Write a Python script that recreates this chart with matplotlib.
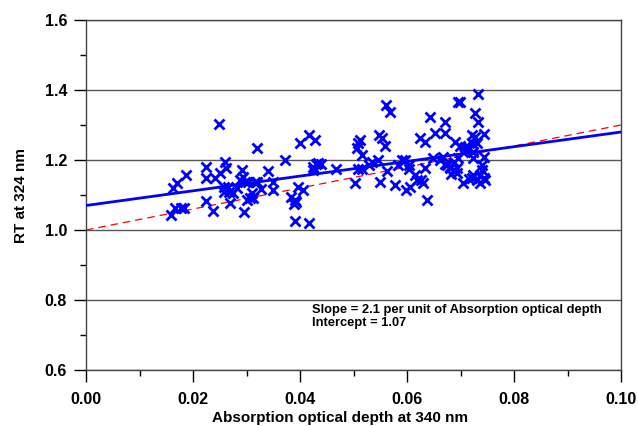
import numpy as np
import matplotlib
matplotlib.use("Agg")
import matplotlib.pyplot as plt
from matplotlib.ticker import MultipleLocator

plt.rcParams['font.family'] = ['Liberation Sans', 'DejaVu Sans']
plt.rcParams['font.weight'] = 'bold'

# absorption optical depth at 340 nm
aod = [0.0158, 0.0163, 0.0170, 0.0166, 0.0178, 0.0184, 0.0186, 0.0224, 0.0224, 0.0224,
       0.0237, 0.0242, 0.0250, 0.0249, 0.0260, 0.0261, 0.0258, 0.0266, 0.0258, 0.0268,
       0.0269, 0.0275, 0.0283, 0.0287, 0.0292, 0.0294, 0.0297, 0.0303, 0.0296, 0.0300,
       0.0307, 0.0310, 0.0313, 0.0316, 0.0319, 0.0320, 0.0327, 0.0340, 0.0349, 0.0350,
       0.0372, 0.0383, 0.0388, 0.0391, 0.0393, 0.0391, 0.0397, 0.0406, 0.0400, 0.0417,
       0.0428, 0.0417, 0.0425, 0.0430, 0.0425, 0.0434, 0.0440, 0.0468, 0.0502, 0.0506,
       0.0509, 0.0513, 0.0515, 0.0509, 0.0515, 0.0529, 0.0535, 0.0545, 0.0547, 0.0553,
       0.0559, 0.0550, 0.0562, 0.0561, 0.0568, 0.0578, 0.0584, 0.0590, 0.0596, 0.0603,
       0.0604, 0.0599, 0.0606, 0.0615, 0.0618, 0.0624, 0.0634, 0.0627, 0.0630, 0.0634,
       0.0637, 0.0643, 0.0652, 0.0649, 0.0662, 0.0671, 0.0671, 0.0674, 0.0680, 0.0687,
       0.0690, 0.0696, 0.0733, 0.0699, 0.0727, 0.0733, 0.0743, 0.0721, 0.0727, 0.0699,
       0.0708, 0.0715, 0.0721, 0.0730, 0.0705, 0.0724, 0.0696, 0.0724, 0.0743, 0.0668,
       0.0671, 0.0680, 0.0687, 0.0693, 0.0683, 0.0693, 0.0740, 0.0740, 0.0737, 0.0724,
       0.0721, 0.0743, 0.0715, 0.0730, 0.0737, 0.0704, 0.0746]

# RT at 324 nm
rt = [1.043, 1.119, 1.133, 1.062, 1.062, 1.062, 1.157, 1.181, 1.150, 1.083,
      1.054, 1.150, 1.162, 1.302, 1.195, 1.178, 1.124, 1.124, 1.110, 1.110,
      1.076, 1.105, 1.119, 1.143, 1.171, 1.152, 1.138, 1.138, 1.052, 1.086,
      1.091, 1.105, 1.091, 1.138, 1.138, 1.233, 1.116, 1.169, 1.114, 1.138,
      1.200, 1.095, 1.074, 1.086, 1.080, 1.027, 1.124, 1.114, 1.248, 1.271,
      1.257, 1.021, 1.171, 1.190, 1.181, 1.192, 1.190, 1.173, 1.133, 1.233,
      1.248, 1.257, 1.214, 1.173, 1.173, 1.186, 1.195, 1.200, 1.271, 1.262,
      1.240, 1.136, 1.169, 1.357, 1.336, 1.129, 1.186, 1.200, 1.200, 1.186,
      1.173, 1.114, 1.124, 1.157, 1.143, 1.262, 1.252, 1.143, 1.133, 1.176,
      1.086, 1.324, 1.276, 1.205, 1.200, 1.310, 1.276, 1.186, 1.176, 1.195,
      1.252, 1.367, 1.389, 1.365, 1.333, 1.310, 1.274, 1.271, 1.267, 1.240,
      1.238, 1.233, 1.248, 1.248, 1.224, 1.224, 1.205, 1.205, 1.210, 1.210,
      1.190, 1.181, 1.171, 1.176, 1.159, 1.162, 1.186, 1.171, 1.157, 1.157,
      1.148, 1.148, 1.145, 1.143, 1.135, 1.133, 1.143]

slope = 2.1
intercept = 1.07
ref_slope = 3.0
ref_intercept = 1.0

fig = plt.figure(figsize=(6.38, 4.26), dpi=100)
ax = fig.add_axes([0.1348, 0.1315, 0.8386, 0.8215])

xs = np.array([0.0, 0.1])
ax.plot(xs, ref_intercept + ref_slope * xs, color='red', ls=(0, (6, 4)), lw=0.9, zorder=2)
ax.plot(aod, rt, ls='none', marker='x', ms=6.5, mew=2, color='blue', zorder=3)
ax.plot(xs, intercept + slope * xs, color='blue', lw=2, zorder=4)

ax.set_xlim(0, 0.1)
ax.set_ylim(0.6, 1.6)
ax.xaxis.set_major_locator(MultipleLocator(0.02))
ax.xaxis.set_minor_locator(MultipleLocator(0.01))
ax.yaxis.set_major_locator(MultipleLocator(0.2))
ax.yaxis.set_minor_locator(MultipleLocator(0.1))
ax.xaxis.set_major_formatter(plt.FormatStrFormatter('%.2f'))
ax.yaxis.set_major_formatter(plt.FormatStrFormatter('%.1f'))
ax.tick_params(which='major', direction='out', length=8.6, width=1, labelsize=11.5, pad=5)
ax.tick_params(axis='x', which='major', pad=7)
ax.tick_params(which='minor', direction='out', length=4.3, width=1)
ax.grid(axis='y', which='major', color='#555555', lw=1)
ax.set_axisbelow(True)
for s in ax.spines.values():
    s.set_color('#444444')
    s.set_linewidth(1)

ax.set_xlabel('Absorption optical depth at 340 nm', fontsize=11, fontweight='bold', labelpad=0)
ax.set_ylabel('RT at 324 nm', fontsize=11, fontweight='bold')
ax.xaxis.set_label_coords(0.475, -0.117)
ax.yaxis.set_label_coords(-0.108, 0.5)

ax.text(0.0423, 0.789, 'Slope = 2.1 per unit of Absorption optical depth\nIntercept = 1.07',
        fontsize=9.3, fontweight='bold', va='top', linespacing=1.1)

fig.savefig('out.png', dpi=100)
